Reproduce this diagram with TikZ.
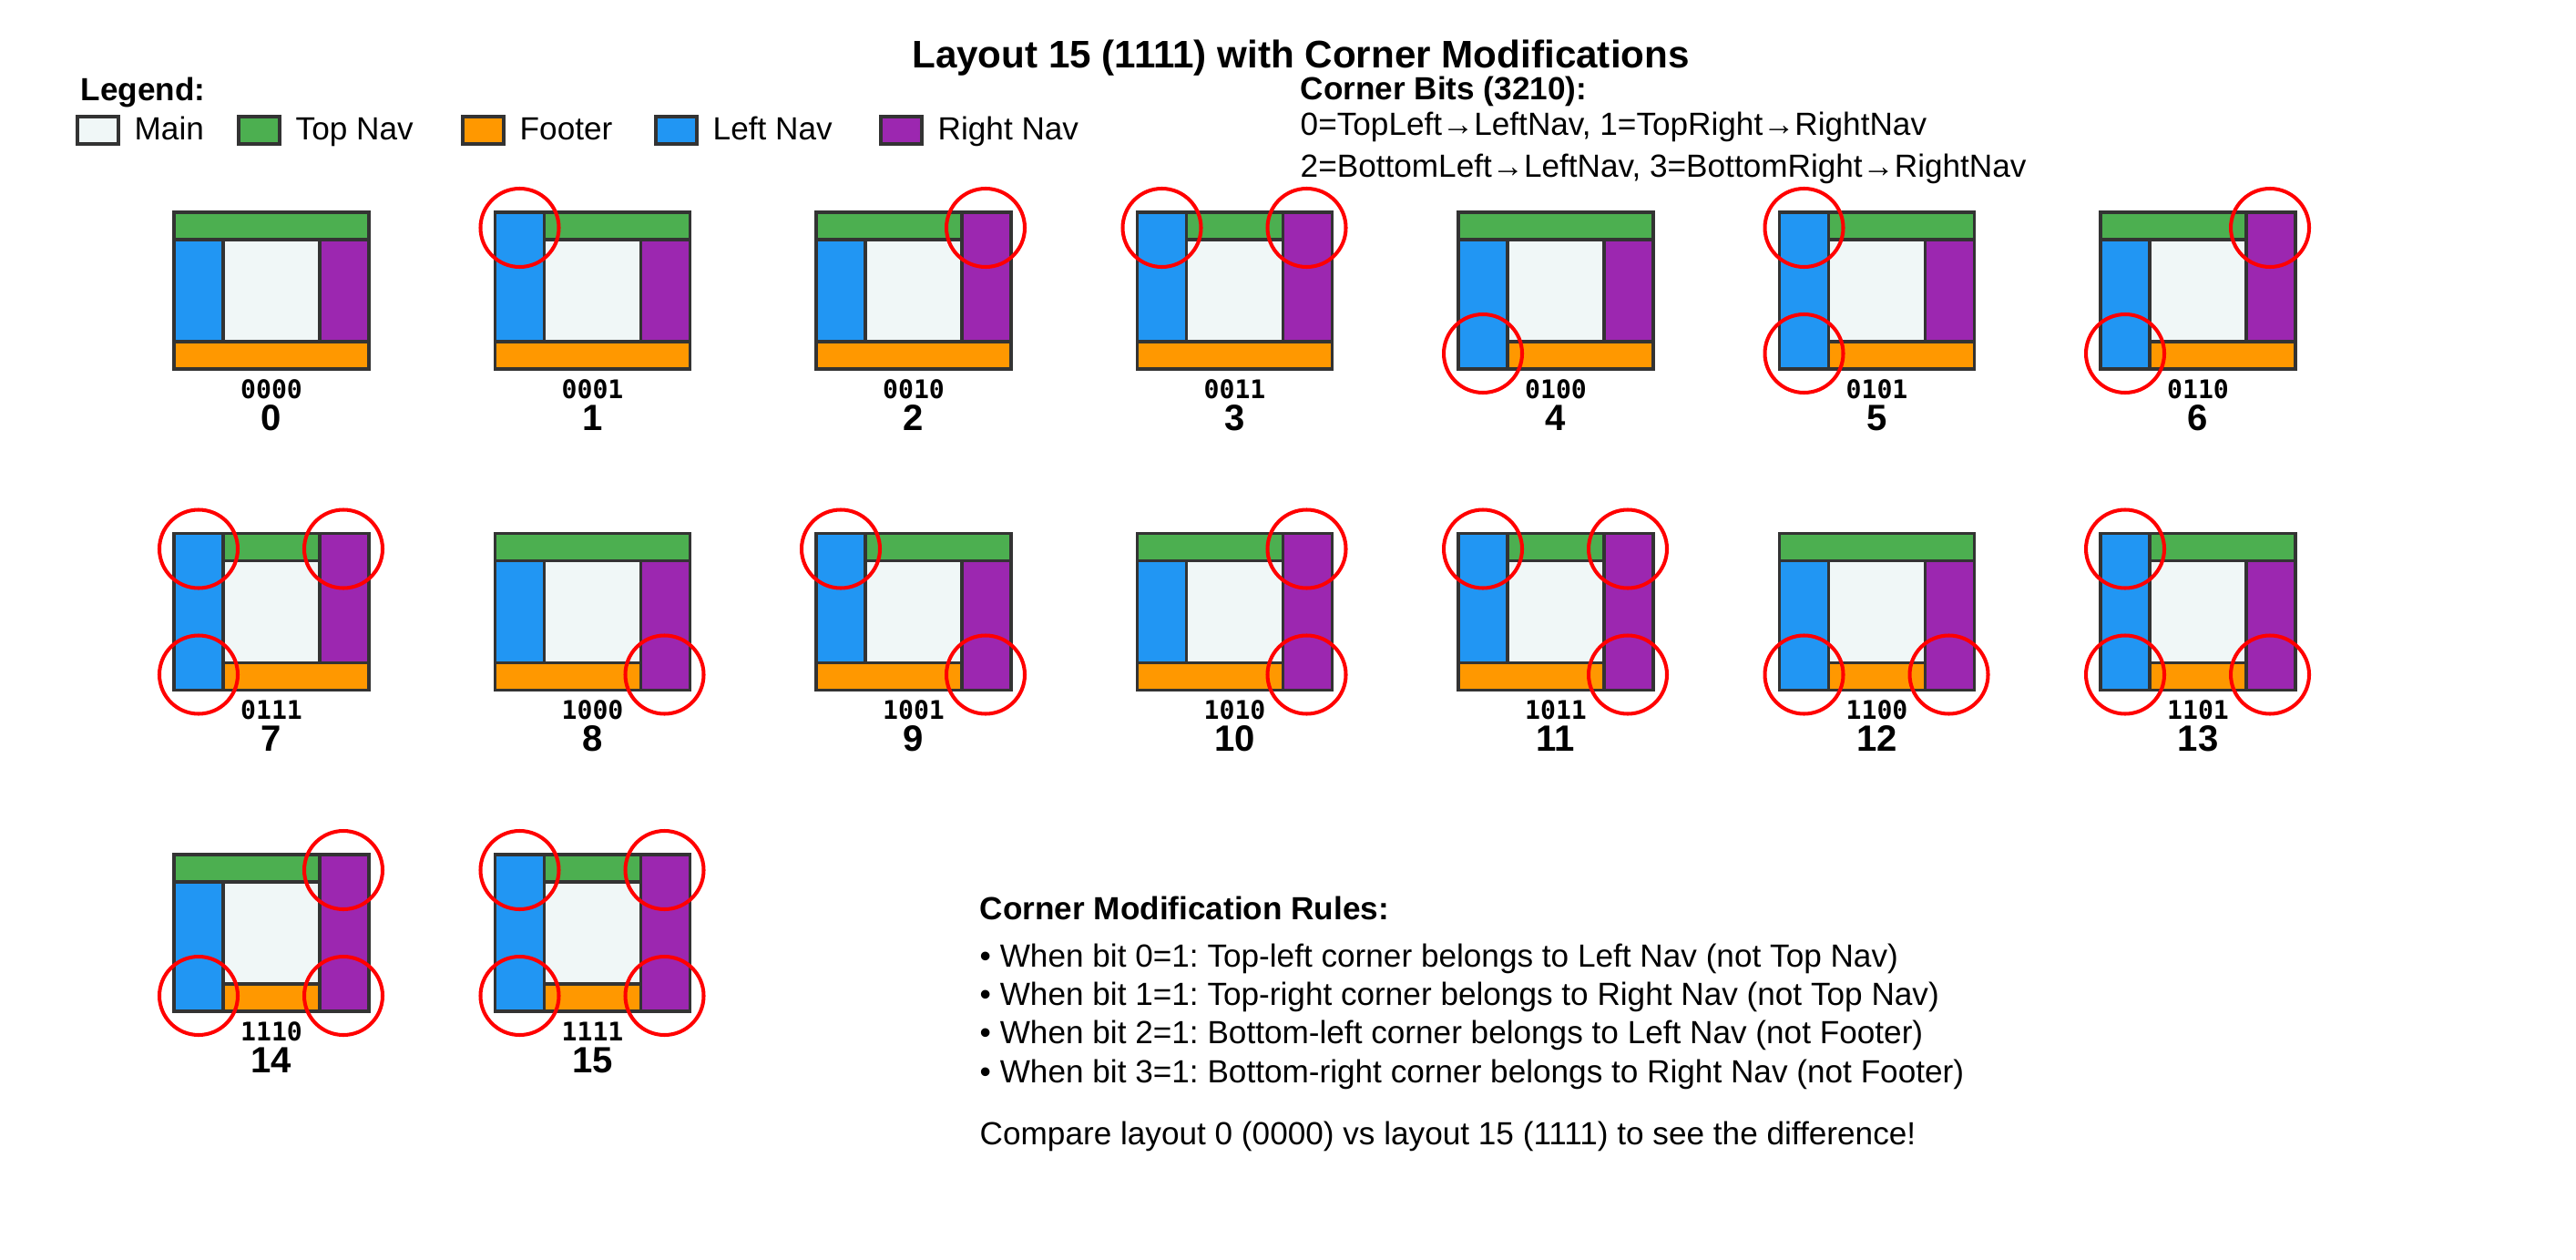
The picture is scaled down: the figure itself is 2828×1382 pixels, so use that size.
\documentclass[tikz,border=0pt]{standalone}
\usepackage{fontspec}
\setmainfont{Liberation Sans}
\newfontfamily\bitsfont{DejaVu Sans Mono}
\usepackage{xcolor}
\definecolor{mainc}{HTML}{F0F7F7}
\definecolor{topc}{HTML}{4CAF50}
\definecolor{footc}{HTML}{FF9800}
\definecolor{leftc}{HTML}{2196F3}
\definecolor{rightc}{HTML}{9C27B0}
\definecolor{edge}{HTML}{333333}
\frenchspacing

\begin{document}
\begin{tikzpicture}[x=0.01cm, y=-0.01cm,
	part/.style={draw=edge, line width=0.9pt},
	corner/.style={draw=red, line width=1.15pt},
	txt/.style={anchor=base west, inner sep=0pt, font=\fontsize{10}{12}\selectfont},
	head/.style={txt, font=\bfseries\fontsize{10}{12}\selectfont},
	bits/.style={anchor=base, inner sep=0pt, font=\bitsfont\bfseries\fontsize{8}{9}\selectfont},
	num/.style={anchor=base, inner sep=0pt, font=\bfseries\fontsize{11.4}{13}\selectfont}]
		\useasboundingbox (0,0) rectangle (2828,1382);

		\node[anchor=base, inner sep=0pt, font=\bfseries\fontsize{12}{14}\selectfont] (title) at (1428,75) {Layout 15 (1111) with Corner Modifications};

		% legend
		\node[head] (legend) at (88,111) {Legend:};
		\foreach \lx/\lc/\lt in {85/mainc/Main, 262/topc/Top Nav, 508/footc/Footer, 720/leftc/Left Nav, 967/rightc/Right Nav}{
			\draw[part, fill=\lc] (\lx,128) rectangle ++(45,30);
			\node[txt] (leg\lc) at (\lx+62,153) {\lt};
		}

		% corner bits
		\node[head] (bitshead) at (1427,110) {Corner Bits (3210):};
		\node[txt] (bitsa) at (1427,149) {0=TopLeft→LeftNav, 1=TopRight→RightNav};
		\node[txt] (bitsb) at (1427,195) {2=BottomLeft→LeftNav, 3=BottomRight→RightNav};

		% the sixteen layouts
		\foreach \n in {0,...,15}{
			\pgfmathtruncatemacro\col{mod(\n,7)}
			\pgfmathtruncatemacro\row{div(\n,7)}
			\pgfmathtruncatemacro\bz{mod(\n,2)}
			\pgfmathtruncatemacro\bo{mod(div(\n,2),2)}
			\pgfmathtruncatemacro\bt{mod(div(\n,4),2)}
			\pgfmathtruncatemacro\bh{div(\n,8)}
			\pgfmathsetmacro\bx{191+352.5*\col}
			\pgfmathsetmacro\by{233+352.5*\row}
			\begin{scope}[shift={(\bx,\by)}]
				\draw[part, fill=mainc] (54,30) rectangle (160,142);
				\draw[part, fill=topc] (54*\bz,0) rectangle (214-54*\bo,30);
				\draw[part, fill=footc] (54*\bt,142) rectangle (214-54*\bh,172);
				\draw[part, fill=leftc] (0,30-30*\bz) rectangle (54,142+30*\bt);
				\draw[part, fill=rightc] (160,30-30*\bo) rectangle (214,142+30*\bh);
				\ifnum\bz=1 \draw[corner] (27,17) circle[radius=43]; \fi
				\ifnum\bo=1 \draw[corner] (186,17) circle[radius=43]; \fi
				\ifnum\bt=1 \draw[corner] (27,155) circle[radius=43]; \fi
				\ifnum\bh=1 \draw[corner] (186,155) circle[radius=43]; \fi
				\node[bits] (bits\n) at (107,204) {\bh\bt\bo\bz};
				\node[num] (num\n) at (107,239) {\n};
			\end{scope}
		}

		% rules
		\node[head] (rules) at (1075,1009) {Corner Modification Rules:};
		\node[txt] (rulea) at (1075,1061) {• When bit 0=1: Top-left corner belongs to Left Nav (not Top Nav)};
		\node[txt] (ruleb) at (1075,1103) {• When bit 1=1: Top-right corner belongs to Right Nav (not Top Nav)};
		\node[txt] (rulec) at (1075,1145) {• When bit 2=1: Bottom-left corner belongs to Left Nav (not Footer)};
		\node[txt] (ruled) at (1075,1188) {• When bit 3=1: Bottom-right corner belongs to Right Nav (not Footer)};
		\node[txt] (compare) at (1075,1256) {Compare layout 0 (0000) vs layout 15 (1111) to see the difference!};
	\end{tikzpicture}
\end{document}
